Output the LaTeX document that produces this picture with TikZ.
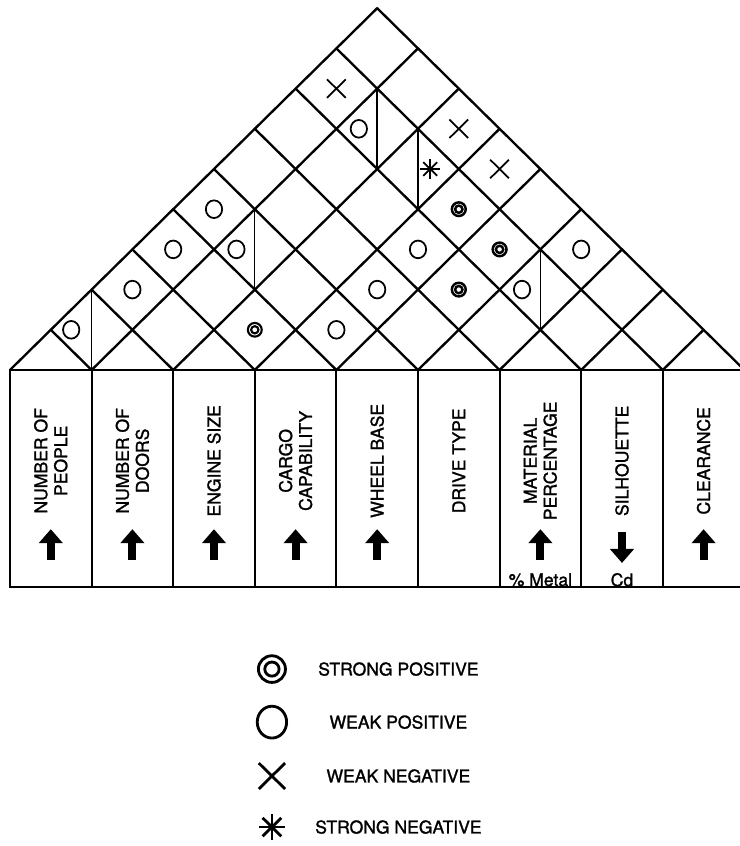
\documentclass[tikz,border=0pt]{standalone}
\usepackage{fontspec}
\setmainfont{TeX Gyre Heros}
\newfontfamily\lblfont[FakeBold=1.4]{TeX Gyre Heros}
\usepackage{tikz}
\usetikzlibrary{arrows.meta}

\begin{document}
\begin{tikzpicture}[x=1.224cm, y=1.206cm,
    roofline/.style={line width=2pt, line cap=round},
    halfline/.style={line width=1.2pt},
    boxline/.style={line width=1.7pt},
    colhead/.style={rotate=90, align=center, inner sep=0pt,
                    font=\lblfont\fontsize{15}{17}\selectfont},
    unitlbl/.style={inner sep=0pt, font=\lblfont\fontsize{15}{17}\selectfont},
    legtext/.style={inner sep=0pt, font=\lblfont\fontsize{15}{17}\selectfont},
    dirarw/.style={line width=0.24cm, -{Triangle[width=0.7cm, length=0.42cm]}},
    symline/.style={line width=1.5pt},
    spos/.pic={\draw (0,0) circle [radius=0.17]; \draw (0,0) circle [radius=0.09];},
    wpos/.pic={\draw (0,0) ellipse [x radius=0.2, y radius=0.22];},
    wneg/.pic={\draw (-0.23,-0.23) -- (0.23,0.23) (-0.23,0.23) -- (0.23,-0.23);},
    sneg/.pic={\foreach \a in {0,45,90,135} \draw (\a:0.24) -- (\a+180:0.24);},
]
\useasboundingbox (-0.245,9.204) rectangle (17.868,-11.841);

% --- Roof (correlation matrix) ---
\foreach \k in {0,...,8}
    \draw[roofline] (2*\k,0) -- (9+\k,9-\k);
\foreach \k in {1,...,9}
    \draw[roofline] (2*\k,0) -- (\k,\k);

% split cells
\foreach \x/\y in {2/1, 6/3, 9/6, 10/5, 13/2}
    \draw[halfline] (\x,\y-1) -- (\x,\y+1);

% correlation symbols
\pic[symline] at (8,7) {wneg};
\pic[symline] at (8.55,6) {wpos};
\pic[symline] at (11,6) {wneg};
\pic[symline] at (10.3,5) {sneg};
\pic[symline] at (12,5) {wneg};
\pic[symline, line width=2.1pt] at (11,4) {spos};
\pic[symline] at (5,4) {wpos};
\pic[symline] at (4,3) {wpos};
\pic[symline] at (5.55,3) {wpos};
\pic[symline] at (10,3) {wpos};
\pic[symline, line width=2.1pt] at (12,3) {spos};
\pic[symline] at (14,3) {wpos};
\pic[symline] at (3,2) {wpos};
\pic[symline] at (9,2) {wpos};
\pic[symline, line width=2.1pt] at (11,2) {spos};
\pic[symline] at (12.55,2) {wpos};
\pic[symline] at (1.5,1) {wpos};
\pic[symline, line width=1.8pt] at (6,1) {spos};
\pic[symline] at (8,1) {wpos};

% --- Characteristics columns ---
\draw[boxline] (0,0) rectangle (18,-5.4);
\foreach \k in {1,...,8}
    \draw[boxline] (2*\k,0) -- (2*\k,-5.4);

\foreach \n/\txt in {1/{NUMBER OF\\PEOPLE}, 2/{NUMBER OF\\DOORS},
        3/{ENGINE SIZE}, 4/{CARGO\\CAPABILITY}, 5/{WHEEL BASE},
        6/{DRIVE TYPE}, 7/{MATERIAL\\PERCENTAGE}, 8/{SILHOUETTE},
        9/{CLEARANCE}}
    \node[colhead] (col\n) at (2*\n-1,-2.26) {\txt};

% direction of improvement
\foreach \n in {1,2,3,4,5,7,9}
    \draw[dirarw] (2*\n-1,-4.73) -- (2*\n-1,-3.96);
\draw[dirarw] (15,-4.03) -- (15,-4.8);

\node[unitlbl] (metal) at (13,-5.22) {\% Metal};
\node[unitlbl] (cd) at (15,-5.22) {Cd};

% --- Legend ---
\pic[symline, line width=2.4pt, scale=1.95] at (6.42,-7.44) {spos};
\pic[symline, line width=2.4pt, scale=1.8] at (6.42,-8.76) {wpos};
\pic[symline, line width=2.4pt, scale=1.4] at (6.42,-10.1) {wneg};
\pic[symline, line width=2.4pt, scale=1.35] at (6.42,-11.37) {sneg};

\node[legtext] (lgsp) at (9.52,-7.44) {STRONG POSITIVE};
\node[legtext] (lgwp) at (9.52,-8.76) {WEAK POSITIVE};
\node[legtext] (lgwn) at (9.52,-10.1) {WEAK NEGATIVE};
\node[legtext] (lgsn) at (9.52,-11.37) {STRONG NEGATIVE};
\end{tikzpicture}
\end{document}
